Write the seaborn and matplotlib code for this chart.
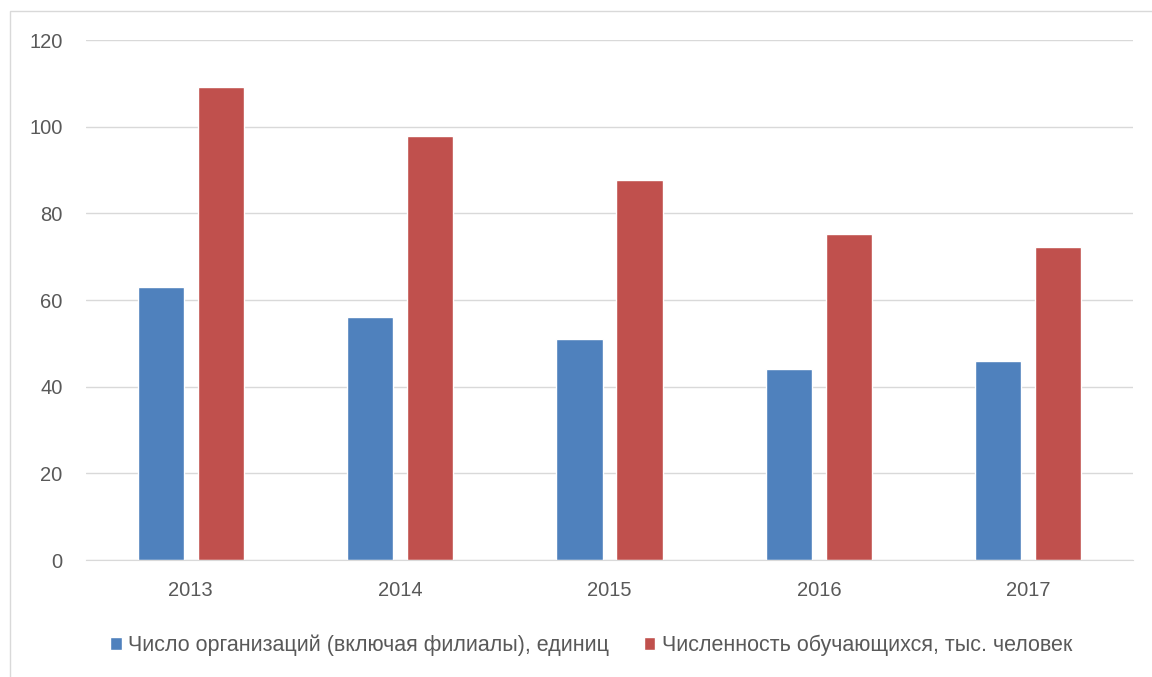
import matplotlib
matplotlib.use("Agg")
import matplotlib.pyplot as plt
from matplotlib.patches import Rectangle
import pandas as pd
import seaborn as sns

years = ["2013", "2014", "2015", "2016", "2017"]
organizations = [63, 56, 51, 44, 46]
students = [109.2, 97.8, 87.7, 75.2, 72.2]
series_names = ["Число организаций (включая филиалы), единиц",
                "Численность обучающихся, тыс. человек"]

df = pd.DataFrame({
    "year": years * 2,
    "value": organizations + students,
    "series": [series_names[0]] * 5 + [series_names[1]] * 5,
})

sns.set_style("white")
plt.rcParams["font.family"] = ["Liberation Sans", "DejaVu Sans"]
text_color = "#595959"

fig = plt.figure(figsize=(11.52, 6.77), dpi=100)
ax = fig.add_axes([86 / 1152, 1 - 560 / 677, (1133 - 86) / 1152, 520 / 677])

sns.barplot(data=df, x="year", y="value", hue="series",
            palette=["#4F81BD", "#C0504D"], width=0.573, gap=0.233,
            saturation=1, ax=ax, legend=True)

ax.set_ylim(0, 120)
ax.set_yticks(range(0, 121, 20))
ax.set_xlim(-0.5, 4.5)
ax.yaxis.grid(True, color="#D9D9D9", linewidth=1)
ax.set_axisbelow(True)
for s in ["top", "right", "left"]:
    ax.spines[s].set_visible(False)
ax.spines["bottom"].set_color("#D9D9D9")
ax.set_xlabel("")
ax.set_ylabel("")
ax.tick_params(axis="both", length=0, labelsize=14.5, labelcolor=text_color)
ax.tick_params(axis="y", pad=17)
ax.tick_params(axis="x", pad=15)

ax.legend(loc="center", bbox_to_anchor=(591 / 1152, 1 - 645 / 677),
          bbox_transform=fig.transFigure, ncol=2, frameon=False,
          fontsize=15.5, labelcolor=text_color, handlelength=0.55,
          handleheight=0.55, handletextpad=0.3, columnspacing=1.6)

fig.patches.append(Rectangle((10 / 1152, -0.1), 1.2, 1 - 11 / 677 + 0.1,
                             transform=fig.transFigure, fill=False,
                             edgecolor="#D9D9D9", linewidth=1))

fig.savefig("out.png", dpi=100)
